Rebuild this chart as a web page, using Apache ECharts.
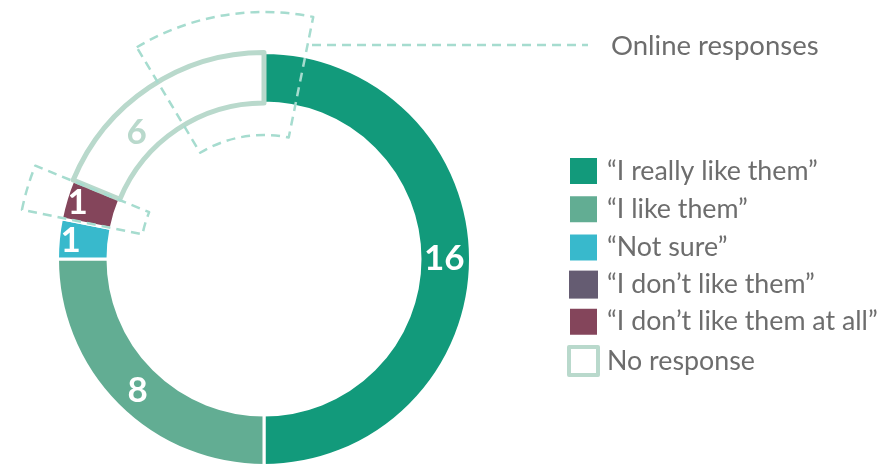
<!DOCTYPE html>
<html><head><meta charset="utf-8">
<script src="https://cdn.jsdelivr.net/npm/echarts@6/dist/echarts.min.js"></script>
<style>html,body{margin:0;padding:0;background:#fff}#c{width:882px;height:464px}</style>
</head><body><div id="c"></div>
<script>
// ---- data ----
const categories = ['“I really like them”', '“I like them”', '“Not sure”', '“I don’t like them”', '“I don’t like them at all”', 'No response'];
const values = [16, 8, 1, 0, 1, 6];
// annotation arcs (degrees, clockwise from 12 o'clock) marking online responses
const onlineArcs = [[-31, 11.5], [-78.5, -67.8]];
const onlineLabel = 'Online responses';

// ---- styles ----
const colors = ['#129a7b', '#62ad93', '#38b9cc', '#655c72', '#84455b', '#ffffff'];
const noRespStroke = '#b9d9cc';
const dashColor = '#a6dccf';
const textColor = '#6d6d6d';
const FONT = 'Lato, "Noto Sans", sans-serif';
const labelShift = { 0: [-4, 0], 1: [4, 1], 2: [-10, 0], 4: [-10, -3], 5: [-25, 27] };
const CENTER = [264, 259];

// build annotation ring slices
const start = onlineArcs[0][0];
const norm = a => ((a - start) % 360 + 360) % 360;
const marks = onlineArcs.map(([a, b]) => [norm(a), norm(a) + ((b - a + 360) % 360)]).sort((x, y) => x[0] - y[0]);
const dashData = [];
let cur = 0;
marks.forEach(([a, b]) => {
  if (a > cur) dashData.push({ value: a - cur, itemStyle: { color: 'rgba(0,0,0,0)', borderWidth: 0 } });
  dashData.push({ value: b - a, itemStyle: { color: 'rgba(0,0,0,0)', borderColor: dashColor, borderWidth: 2.5, borderType: [9, 6] } });
  cur = b;
});
if (cur < 360) dashData.push({ value: 360 - cur, itemStyle: { color: 'rgba(0,0,0,0)', borderWidth: 0 } });

const chart = echarts.init(document.getElementById('c'), null, { renderer: 'canvas' });
chart.setOption({
  animation: false,
  legend: {
    orient: 'vertical', left: 567, top: 156, padding: 0,
    itemWidth: 29, itemHeight: 28, itemGap: 8.2, icon: 'rect',
    selectedMode: false,
    textStyle: { fontFamily: FONT, fontSize: 26.8, lineHeight: 28, color: textColor, padding: [0, 0, 0, 4] },
    data: categories.map((n, i) => i === 5 ? { name: n, itemStyle: { color: '#fff', borderColor: noRespStroke, borderWidth: 4 } } : { name: n })
  },
  series: [
    {
      type: 'pie', center: CENTER, radius: [156, 206.5], startAngle: 90, clockwise: true,
      silent: true, emphasis: { disabled: true }, avoidLabelOverlap: false, minAngle: 0,
      itemStyle: { borderColor: '#fff', borderWidth: 3, borderJoin: 'round' },
      label: {
        show: true, position: 'inside', fontFamily: FONT, fontWeight: 'bold', fontSize: 35, color: '#fff',
        formatter: p => String(p.value)
      },
      labelLine: { show: false },
      labelLayout: p => { const s = labelShift[p.dataIndex]; return s ? { dx: s[0], dy: s[1] } : {}; },
      data: categories.map((n, i) => {
        const d = { name: n, value: values[i], itemStyle: { color: colors[i] } };
        if (i === 5) { d.itemStyle = { color: '#fff', borderColor: noRespStroke, borderWidth: 5, borderJoin: 'round' }; d.label = { color: noRespStroke }; }
        if (values[i] === 0) { d.label = { show: false }; d.itemStyle.borderWidth = 0; }
        return d;
      })
    },
    {
      type: 'pie', center: CENTER, radius: [124, 247], startAngle: 90 - start, clockwise: true,
      silent: true, emphasis: { disabled: true }, z: 5,
      label: { show: false }, labelLine: { show: false },
      data: dashData.map((d, i) => Object.assign({ name: '_arc' + i }, d))
    }
  ],
  graphic: [
    { type: 'line', silent: true, shape: { x1: 312, y1: 45, x2: 588, y2: 45 }, style: { stroke: dashColor, lineWidth: 2.5, lineDash: [9, 6] } },
    { type: 'text', silent: true, x: 611, y: 46, style: { text: onlineLabel, font: '27.5px ' + FONT, fill: textColor, textVerticalAlign: 'middle' } }
  ]
});
</script></body></html>
